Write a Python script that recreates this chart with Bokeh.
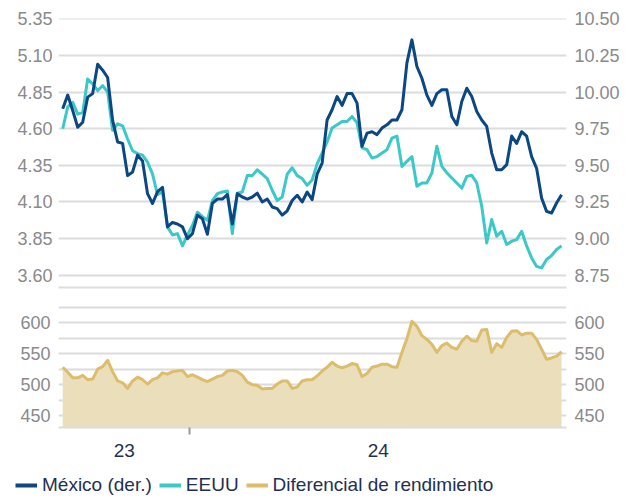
import pandas as pd
from bokeh.plotting import figure
from bokeh.layouts import column
from bokeh.models import (Range1d, LinearAxis, FixedTicker, Legend, LegendItem,
                          NumeralTickFormatter)
from bokeh.embed import file_html
from bokeh.resources import INLINE

# ---------------- data ----------------
START = "2023-10-03"
END = "2024-09-20"
YEAR_BOUNDARY = "2024-01-01"
YEAR_LABELS = ["23", "24"]

MEXICO = [9.886, 9.98, 9.875, 9.76, 9.795, 9.966, 9.99, 10.19, 10.15, 10.10,
          9.807, 9.66, 9.65, 9.43, 9.455, 9.57, 9.53, 9.307, 9.24, 9.32,
          9.35, 9.08, 9.11, 9.10, 9.08, 9.00, 9.034, 9.16, 9.136, 9.03,
          9.24, 9.27, 9.27, 9.30, 9.10, 9.307, 9.284, 9.27, 9.284, 9.31,
          9.25, 9.27, 9.216, 9.205, 9.16, 9.19, 9.26, 9.296, 9.25, 9.318,
          9.266, 9.44, 9.516, 9.81, 9.88, 9.97, 9.91, 9.99, 9.99, 9.925,
          9.63, 9.72, 9.73, 9.71, 9.755, 9.777, 9.81, 9.81, 9.88, 10.20,
          10.357, 10.175, 10.095, 9.98, 9.91, 9.99, 10.016, 10.016, 9.834, 9.777,
          9.936, 10.027, 9.97, 9.868, 9.81, 9.766, 9.584, 9.47, 9.47, 9.505,
          9.70, 9.65, 9.73, 9.70, 9.56, 9.48, 9.277, 9.186, 9.175, 9.243,
          9.30]

EEUU = [4.60, 4.75, 4.78, 4.70, 4.71, 4.94, 4.906, 4.86, 4.895, 4.85,
        4.59, 4.634, 4.62, 4.53, 4.45, 4.43, 4.42, 4.373, 4.29, 4.15,
        4.17, 3.93, 3.875, 3.884, 3.80, 3.875, 3.94, 4.03, 4.00, 3.975,
        4.11, 4.157, 4.168, 4.175, 3.884, 4.16, 4.168, 4.28, 4.28, 4.32,
        4.29, 4.26, 4.18, 4.11, 4.134, 4.29, 4.334, 4.28, 4.26, 4.214,
        4.25, 4.36, 4.434, 4.51, 4.605, 4.627, 4.65, 4.65, 4.684, 4.64,
        4.47, 4.457, 4.40, 4.41, 4.434, 4.457, 4.536, 4.55, 4.343, 4.377,
        4.41, 4.207, 4.23, 4.23, 4.298, 4.48, 4.343, 4.30, 4.264, 4.23,
        4.195, 4.275, 4.282, 4.23, 4.07, 3.82, 3.98, 3.866, 3.90, 3.81,
        3.832, 3.843, 3.90, 3.80, 3.718, 3.66, 3.65, 3.707, 3.734, 3.775,
        3.80]

DIFERENCIAL = [528, 520, 511, 511, 515, 508, 509, 525, 529, 539,
               521, 506, 503, 494, 506, 512, 508, 501, 508, 511,
               519, 517, 521, 522, 523, 513, 516, 512, 508, 505,
               509, 513, 515, 522, 523, 521, 515, 504, 500, 499,
               493, 494, 494, 501, 506, 506, 494, 496, 506, 508,
               508, 514, 522, 528, 536, 530, 527, 530, 534, 532,
               513, 518, 528, 530, 533, 533, 529, 528, 552, 574,
               602, 594, 579, 573, 565, 552, 563, 567, 560, 557,
               570, 578, 571, 570, 588, 589, 552, 566, 560, 576,
               586, 587, 580, 583, 583, 573, 557, 541, 543, 546,
               553]

LEFT_TICKS = [3.60, 3.85, 4.10, 4.35, 4.60, 4.85, 5.10, 5.35]
RIGHT_TICKS = [8.75, 9.00, 9.25, 9.50, 9.75, 10.00, 10.25, 10.50]
SPREAD_TICKS = [450, 500, 550, 600]
SPREAD_MINOR = [475, 525, 575, 625]

SERIES_NAMES = ["México (der.)", "EEUU", "Diferencial de rendimiento"]

# ---------------- styles ----------------
MX_COLOR = "#0a4783"
US_COLOR = "#3cc8c8"
SP_COLOR = "#dbbd6b"
SP_FILL = "#ebdfbb"
GRID = "#dcdcdc"
TICK_TXT = "#8a8a8a"
DARK_TXT = "#1f3050"
FONT = "Liberation Sans"

W = 630
BL, BR = 58, W - 566

DAY = 86400000
x_ms = [int(v) for v in (pd.date_range(START, END, periods=len(MEXICO)).asi8 // 1_000_000)]
boundary = int(pd.Timestamp(YEAR_BOUNDARY).value // 1_000_000)
x_start = x_ms[0] - 3 * DAY
x_end = x_ms[-1] + int(3.5 * DAY)
mid23 = int((x_start + boundary) / 2)
mid24 = int((boundary + x_end) / 2)

xr = Range1d(start=x_start, end=x_end)

LEFT_LO, LEFT_HI = 3.516, 5.353
OFFSET = 5.15


def style_yaxis(ax, standoff):
    ax.axis_line_color = None
    ax.major_tick_line_color = None
    ax.minor_tick_line_color = None
    ax.major_tick_out = 0
    ax.major_tick_in = 0
    ax.minor_tick_out = 0
    ax.minor_tick_in = 0
    ax.major_label_text_font = FONT
    ax.major_label_text_font_size = "18px"
    ax.major_label_text_color = TICK_TXT
    ax.major_label_standoff = standoff


def clean(p):
    p.outline_line_color = None
    p.background_fill_color = None
    p.border_fill_color = None


# ---------------- top panel ----------------
p1 = figure(width=W, height=295, x_range=xr, y_range=Range1d(LEFT_LO, LEFT_HI),
            x_axis_type=None, output_backend="svg", toolbar_location=None,
            min_border_left=BL, min_border_right=BR, min_border_top=18, min_border_bottom=8)
clean(p1)
p1.extra_y_ranges = {"mx": Range1d(LEFT_LO + OFFSET, LEFT_HI + OFFSET)}

p1.yaxis.ticker = FixedTicker(ticks=LEFT_TICKS)
p1.yaxis.formatter = NumeralTickFormatter(format="0.00")
style_yaxis(p1.yaxis[0], 6)
p1.ygrid.grid_line_color = GRID
p1.ygrid.grid_line_width = 2

rax = LinearAxis(y_range_name="mx", ticker=FixedTicker(ticks=RIGHT_TICKS),
                 formatter=NumeralTickFormatter(format="0.00"))
style_yaxis(rax, 8)
p1.add_layout(rax, "right")

bax = LinearAxis(ticker=FixedTicker(ticks=[]), axis_line_color=GRID, axis_line_width=2,
                 major_tick_line_color=None, minor_tick_line_color=None,
                 major_tick_out=0, minor_tick_out=0,
                 major_label_text_font_size="0px", major_label_standoff=0)
p1.add_layout(bax, "below")

p1.line(x_ms, EEUU, line_color=US_COLOR, line_width=3, line_join="round")
p1.line(x_ms, MEXICO, line_color=MX_COLOR, line_width=3, line_join="round", y_range_name="mx")

# ---------------- bottom panel ----------------
p2 = figure(width=W, height=171, x_range=xr, y_range=Range1d(431, 627.5),
            x_axis_type=None, output_backend="svg", toolbar_location=None,
            min_border_left=BL, min_border_right=BR, min_border_top=10, min_border_bottom=39)
clean(p2)

p2.yaxis.ticker = FixedTicker(ticks=SPREAD_TICKS, minor_ticks=SPREAD_MINOR)
style_yaxis(p2.yaxis[0], 8)
p2.ygrid.grid_line_color = GRID
p2.ygrid.grid_line_width = 2
p2.ygrid.minor_grid_line_color = GRID
p2.ygrid.minor_grid_line_width = 2

rax2 = LinearAxis(ticker=FixedTicker(ticks=SPREAD_TICKS))
style_yaxis(rax2, 8)
p2.add_layout(rax2, "right")

xax = LinearAxis(ticker=FixedTicker(ticks=[mid23, mid24], minor_ticks=[boundary]),
                 major_label_overrides={mid23: YEAR_LABELS[0], mid24: YEAR_LABELS[1]})
xax.axis_line_color = GRID
xax.axis_line_width = 2
xax.major_tick_line_color = None
xax.major_tick_out = 7
xax.major_tick_in = 0
xax.minor_tick_line_color = "#9a9a9a"
xax.minor_tick_line_width = 2
xax.minor_tick_in = 0
xax.minor_tick_out = 7
xax.major_label_standoff = 9
xax.major_label_text_font = FONT
xax.major_label_text_font_size = "19px"
xax.major_label_text_color = DARK_TXT
p2.add_layout(xax, "below")

p2.varea(x=x_ms, y1=0, y2=DIFERENCIAL, fill_color=SP_FILL)
p2.line(x_ms, DIFERENCIAL, line_color=SP_COLOR, line_width=3, line_join="round")

# ---------------- legend strip ----------------
# the strip's ranges lie far from the data, so its lines only show as legend swatches
p3 = figure(width=W, height=34, x_range=Range1d(0, 1), y_range=Range1d(0, 1),
            x_axis_type=None, y_axis_type=None, output_backend="svg", toolbar_location=None,
            min_border_left=0, min_border_right=0, min_border_top=0, min_border_bottom=0,
            frame_align=False)
clean(p3)
p3.xgrid.visible = False
p3.ygrid.visible = False
series = [MEXICO, EEUU, DIFERENCIAL]
colors = [MX_COLOR, US_COLOR, SP_COLOR]
items = []
for name, ys, c in zip(SERIES_NAMES, series, colors):
    r = p3.line(x=x_ms, y=ys, line_color=c, line_width=4)
    items.append(LegendItem(label=name, renderers=[r]))
legend = Legend(items=items, orientation="horizontal", location=(15, 4),
                glyph_width=22, glyph_height=18, label_height=18, label_standoff=5,
                spacing=7, padding=0, margin=0, border_line_color=None,
                background_fill_alpha=0, label_text_font=FONT,
                label_text_font_size="19px", label_text_color=DARK_TXT)
p3.add_layout(legend)

layout = column(p1, p2, p3, spacing=0)
open("out.html", "w").write(file_html(layout, INLINE))
